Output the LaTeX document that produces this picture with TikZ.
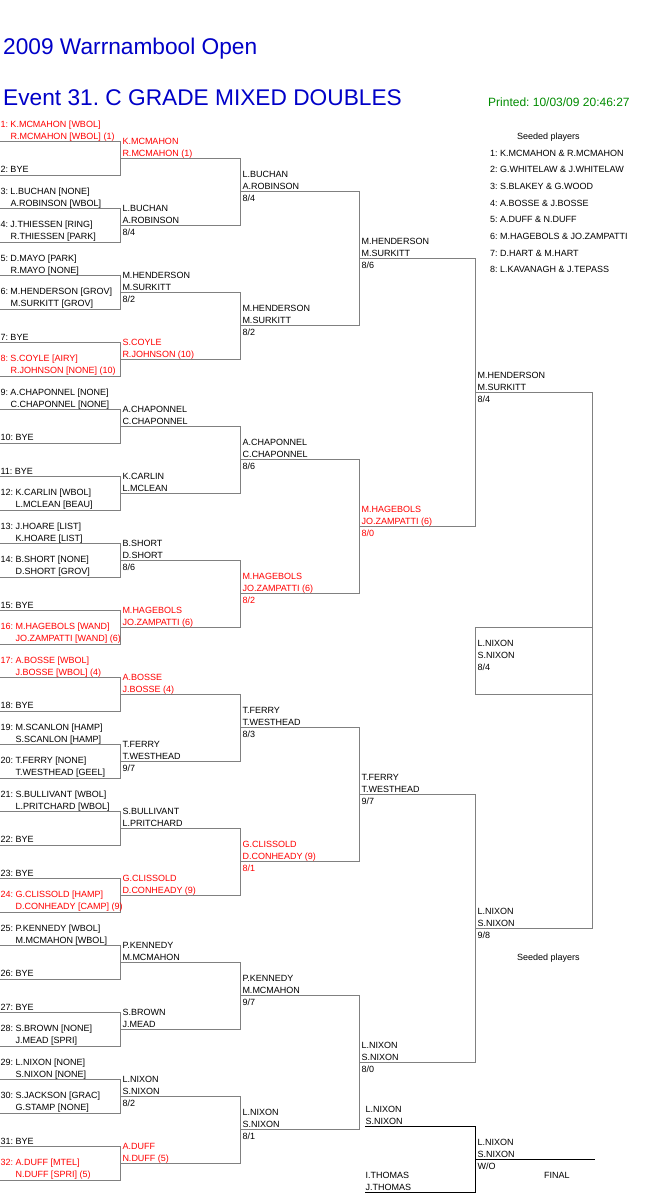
\documentclass[tikz,border=0pt]{standalone}
\usepackage{fontspec}
\setmainfont{Liberation Sans}
\definecolor{brgrey}{RGB}{128,128,128}
\definecolor{ttlblue}{RGB}{0,0,200}
\definecolor{prgreen}{RGB}{0,140,0}
\definecolor{seedred}{RGB}{255,0,0}
\tikzset{
  br/.style={draw=brgrey, line width=0.9bp},
  fin/.style={draw=black, line width=0.9bp},
  lbl/.style={anchor=base west, inner sep=0pt, outer sep=0pt, font=\fontsize{9bp}{12bp}\selectfont, text=black},
  sd/.style={text=seedred},
  ttl/.style={anchor=base west, inner sep=0pt, font=\fontsize{22.7bp}{26bp}\selectfont, text=ttlblue},
}
% first-round entry: name, y of line, number, line1, line2, style
\newcommand\rentry[6]{\node[lbl,#6] (#1) at (0.5,#2-2.5) {\begin{tabular}[b]{@{}l@{\ }l@{}}#3: & #4\\ & #5\end{tabular}};}
\newcommand\rbye[3]{\node[lbl] (#1) at (0.5,#2-2.5) {#3: BYE};}
% winner: name, text x, y of line, line1, line2, score, style
\newcommand\rwin[7]{\node[lbl,#7] (#1) at (#2,#3-2) {\begin{tabular}[b]{@{}l@{}}#4\\#5\end{tabular}};
  \node[lbl,#7] (#1s) at (#2,#3+10) {#6};}
\newcommand\rwinb[6]{\node[lbl,#6] (#1) at (#2,#3-2) {\begin{tabular}[b]{@{}l@{}}#4\\#5\end{tabular}};}
\begin{document}
\frenchspacing
\begin{tikzpicture}[x=1bp,y=-1bp]
\fill[white] (0,0) rectangle (661,1196);
\useasboundingbox (0,0) rectangle (661,1196);

% headings
\node[ttl] (t1) at (3,54) {2009 Warrnambool Open};
\node[ttl] (t2) at (3,105) {Event 31. C GRADE MIXED DOUBLES};
\node[anchor=base west, inner sep=0pt, font=\fontsize{12bp}{14bp}\selectfont, text=prgreen] (pr) at (488,106) {Printed: 10/03/09 20:46:27};

% seeded players
\node[lbl] (sp) at (517,139) {Seeded players};
\foreach \i/\t in {1/K.MCMAHON \& R.MCMAHON, 2/G.WHITELAW \& J.WHITELAW, 3/S.BLAKEY \& G.WOOD, 4/A.BOSSE \& J.BOSSE, 5/A.DUFF \& N.DUFF, 6/M.HAGEBOLS \& JO.ZAMPATTI, 7/D.HART \& M.HART, 8/L.KAVANAGH \& J.TEPASS}
  \node[lbl] (seed\i) at (490,{156+(\i-1)*16.7}) {\i: \t};
\node[lbl] (sp2) at (517,960) {Seeded players};

% bracket lines
\foreach \a/\b in {141.5/175,208.5/242,275.5/309,342.5/376,409.5/443,476.5/510,543.5/577,610.5/644,677.5/711,744.5/778,811.5/845,878.5/912,945.5/979,1012.5/1046,1079.5/1113,1146.5/1180}
  \draw[br] (0,\a) -- (120,\a) -- (120,\b) -- (0,\b);
\foreach \a/\b in {158.25/225.25,292.25/359.25,426.25/493.25,560.25/627.25,694.25/761.25,828.25/895.25,962.25/1029.25,1096.25/1163.25}
  \draw[br] (120,\a) -- (240,\a) -- (240,\b) -- (120,\b);
\foreach \a/\b in {191.75/325.75,459.75/593.75,727.75/861.75,995.75/1129.75}
  \draw[br] (240,\a) -- (359,\a) -- (359,\b) -- (240,\b);
\foreach \a/\b in {258.75/526.75,794.75/1062.75}
  \draw[br] (359,\a) -- (475,\a) -- (475,\b) -- (359,\b);
\draw[br] (475,392.75) -- (592,392.75) -- (592,928.75) -- (475,928.75);
\draw[br] (475,627.25) rectangle (592,694.25);

% round 1
\rentry{e1}{141.5}{1}{K.MCMAHON [WBOL]}{R.MCMAHON [WBOL] (1)}{sd}
\rbye{e2}{175}{2}
\rentry{e3}{208.5}{3}{L.BUCHAN [NONE]}{A.ROBINSON [WBOL]}{}
\rentry{e4}{242}{4}{J.THIESSEN [RING]}{R.THIESSEN [PARK]}{}
\rentry{e5}{275.5}{5}{D.MAYO [PARK]}{R.MAYO [NONE]}{}
\rentry{e6}{309}{6}{M.HENDERSON [GROV]}{M.SURKITT [GROV]}{}
\rbye{e7}{342.5}{7}
\rentry{e8}{376}{8}{S.COYLE [AIRY]}{R.JOHNSON [NONE] (10)}{sd}
\rentry{e9}{409.5}{9}{A.CHAPONNEL [NONE]}{C.CHAPONNEL [NONE]}{}
\rbye{e10}{443}{10}
\rbye{e11}{476.5}{11}
\rentry{e12}{510}{12}{K.CARLIN [WBOL]}{L.MCLEAN [BEAU]}{}
\rentry{e13}{543.5}{13}{J.HOARE [LIST]}{K.HOARE [LIST]}{}
\rentry{e14}{577}{14}{B.SHORT [NONE]}{D.SHORT [GROV]}{}
\rbye{e15}{610.5}{15}
\rentry{e16}{644}{16}{M.HAGEBOLS [WAND]}{JO.ZAMPATTI [WAND] (6)}{sd}
\rentry{e17}{677.5}{17}{A.BOSSE [WBOL]}{J.BOSSE [WBOL] (4)}{sd}
\rbye{e18}{711}{18}
\rentry{e19}{744.5}{19}{M.SCANLON [HAMP]}{S.SCANLON [HAMP]}{}
\rentry{e20}{778}{20}{T.FERRY [NONE]}{T.WESTHEAD [GEEL]}{}
\rentry{e21}{811.5}{21}{S.BULLIVANT [WBOL]}{L.PRITCHARD [WBOL]}{}
\rbye{e22}{845}{22}
\rbye{e23}{878.5}{23}
\rentry{e24}{912}{24}{G.CLISSOLD [HAMP]}{D.CONHEADY [CAMP] (9)}{sd}
\rentry{e25}{945.5}{25}{P.KENNEDY [WBOL]}{M.MCMAHON [WBOL]}{}
\rbye{e26}{979}{26}
\rbye{e27}{1012.5}{27}
\rentry{e28}{1046}{28}{S.BROWN [NONE]}{J.MEAD [SPRI]}{}
\rentry{e29}{1079.5}{29}{L.NIXON [NONE]}{S.NIXON [NONE]}{}
\rentry{e30}{1113}{30}{S.JACKSON [GRAC]}{G.STAMP [NONE]}{}
\rbye{e31}{1146.5}{31}
\rentry{e32}{1180}{32}{A.DUFF [MTEL]}{N.DUFF [SPRI] (5)}{sd}

% round 2
\rwinb{r2a}{122.5}{158.25}{K.MCMAHON}{R.MCMAHON (1)}{sd}
\rwin{r2b}{122.5}{225.25}{L.BUCHAN}{A.ROBINSON}{8/4}{}
\rwin{r2c}{122.5}{292.25}{M.HENDERSON}{M.SURKITT}{8/2}{}
\rwinb{r2d}{122.5}{359.25}{S.COYLE}{R.JOHNSON (10)}{sd}
\rwinb{r2e}{122.5}{426.25}{A.CHAPONNEL}{C.CHAPONNEL}{}
\rwinb{r2f}{122.5}{493.25}{K.CARLIN}{L.MCLEAN}{}
\rwin{r2g}{122.5}{560.25}{B.SHORT}{D.SHORT}{8/6}{}
\rwinb{r2h}{122.5}{627.25}{M.HAGEBOLS}{JO.ZAMPATTI (6)}{sd}
\rwinb{r2i}{122.5}{694.25}{A.BOSSE}{J.BOSSE (4)}{sd}
\rwin{r2j}{122.5}{761.25}{T.FERRY}{T.WESTHEAD}{9/7}{}
\rwinb{r2k}{122.5}{828.25}{S.BULLIVANT}{L.PRITCHARD}{}
\rwinb{r2l}{122.5}{895.25}{G.CLISSOLD}{D.CONHEADY (9)}{sd}
\rwinb{r2m}{122.5}{962.25}{P.KENNEDY}{M.MCMAHON}{}
\rwinb{r2n}{122.5}{1029.25}{S.BROWN}{J.MEAD}{}
\rwin{r2o}{122.5}{1096.25}{L.NIXON}{S.NIXON}{8/2}{}
\rwinb{r2p}{122.5}{1163.25}{A.DUFF}{N.DUFF (5)}{sd}

% round 3
\rwin{r3a}{242.5}{191.75}{L.BUCHAN}{A.ROBINSON}{8/4}{}
\rwin{r3b}{242.5}{325.75}{M.HENDERSON}{M.SURKITT}{8/2}{}
\rwin{r3c}{242.5}{459.75}{A.CHAPONNEL}{C.CHAPONNEL}{8/6}{}
\rwin{r3d}{242.5}{593.75}{M.HAGEBOLS}{JO.ZAMPATTI (6)}{8/2}{sd}
\rwin{r3e}{242.5}{727.75}{T.FERRY}{T.WESTHEAD}{8/3}{}
\rwin{r3f}{242.5}{861.75}{G.CLISSOLD}{D.CONHEADY (9)}{8/1}{sd}
\rwin{r3g}{242.5}{995.75}{P.KENNEDY}{M.MCMAHON}{9/7}{}
\rwin{r3h}{242.5}{1129.75}{L.NIXON}{S.NIXON}{8/1}{}

% round 4
\rwin{r4a}{361.5}{258.75}{M.HENDERSON}{M.SURKITT}{8/6}{}
\rwin{r4b}{361.5}{526.75}{M.HAGEBOLS}{JO.ZAMPATTI (6)}{8/0}{sd}
\rwin{r4c}{361.5}{794.75}{T.FERRY}{T.WESTHEAD}{9/7}{}
\rwin{r4d}{361.5}{1062.75}{L.NIXON}{S.NIXON}{8/0}{}

% round 5 and winner box
\rwin{r5a}{477.5}{392.75}{M.HENDERSON}{M.SURKITT}{8/4}{}
\rwin{r5b}{477.5}{928.75}{L.NIXON}{S.NIXON}{9/8}{}
\rwin{champ}{477.5}{660.75}{L.NIXON}{S.NIXON}{8/4}{}

% final
\draw[fin] (365,1126) -- (475,1126) -- (475,1192.5) -- (365,1192.5);
\draw[fin] (475,1159) -- (595,1159);
\rwinb{fa}{365.5}{1126}{L.NIXON}{S.NIXON}{}
\rwinb{fb}{365.5}{1192.5}{I.THOMAS}{J.THOMAS}{}
\rwin{fw}{477.5}{1159}{L.NIXON}{S.NIXON}{W/O}{}
\node[lbl] (final) at (544,1178) {FINAL};
\end{tikzpicture}
\end{document}
